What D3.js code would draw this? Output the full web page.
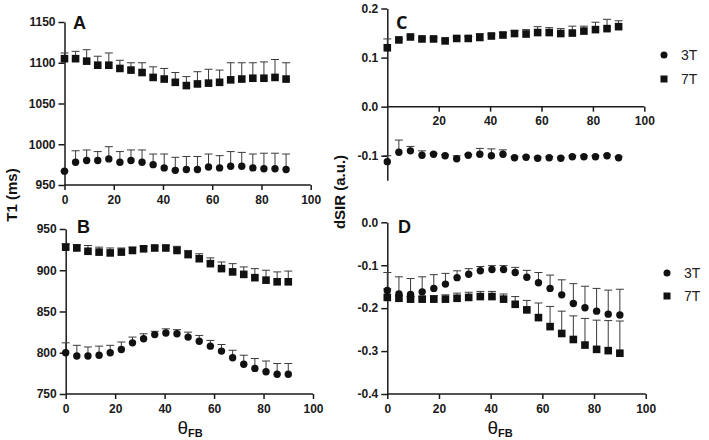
<!DOCTYPE html>
<html>
<head>
<meta charset="utf-8">
<script src="https://cdn.jsdelivr.net/npm/d3@7"></script>
<style>
  body { margin: 0; background: #fff; }
  svg { display: block; }
  .axis path, .axis line { stroke: #1a1a1a; stroke-width: 1.5; }
  .axis text { font-family: "Liberation Sans", Arial, sans-serif; font-weight: bold; font-size: 12px; fill: #1a1a1a; }
</style>
</head>
<body>
<svg id="chart" width="709" height="440"></svg>
<script>
// flip angle (deg)
var theta = [0, 4.5, 9, 13.5, 18, 22.5, 27, 31.5, 36, 40.5, 45, 49.5, 54, 58.5, 63, 67.5, 72, 76.5, 81, 85.5, 90];

// A: T1 (ms), first ROI
var a3T = [967, 978, 980, 980, 982, 978, 980, 978, 975, 971, 968, 969, 969, 972, 971, 973, 973, 971, 970, 970, 969];
var a3Tsd = [0, 14, 13, 11, 15, 13, 13, 15, 13, 17, 16, 16, 16, 16, 15, 18, 17, 17, 19, 19, 19];
var a7T = [1105, 1105, 1102, 1097, 1097, 1093, 1091, 1088, 1082, 1080, 1076, 1072, 1074, 1075, 1076, 1079, 1080, 1081, 1081, 1082, 1080];
var a7Tsd = [7, 9, 14, 11, 15, 10, 9, 12, 13, 13, 12, 11, 15, 17, 15, 21, 20, 19, 20, 22, 20];

// B: T1 (ms), second ROI
var b3T = [800, 796, 796, 797, 800, 804, 812, 817, 822, 824, 823, 819, 814, 808, 802, 794, 786, 781, 777, 774, 774];
var b3Tsd = [12, 13, 11, 11, 9, 9, 7, 6, 4, 5, 5, 6, 7, 7, 8, 9, 11, 12, 13, 13, 13];
var b7T = [928, 927, 923, 922, 921, 922, 924, 926, 927, 927, 924, 919, 914, 908, 902, 898, 895, 891, 888, 886, 886];
var b7Tsd = [4, 4, 7, 6, 6, 5, 4, 3, 2, 3, 5, 5, 6, 7, 8, 10, 9, 11, 12, 12, 13];

// C: dSIR (a.u.), first ROI
var c3T = [-0.112, -0.093, -0.090, -0.099, -0.097, -0.100, -0.106, -0.099, -0.097, -0.100, -0.097, -0.104, -0.103, -0.105, -0.104, -0.105, -0.102, -0.102, -0.102, -0.100, -0.104];
var c3Tsd = [0.012, 0.025, 0.009, 0.009, 0.002, 0.002, 0.006, 0.002, 0.012, 0.014, 0.009, 0.002, 0.002, 0.002, 0.002, 0.002, 0.002, 0.002, 0.002, 0.002, 0.002];
var c7T = [0.120, 0.136, 0.142, 0.138, 0.138, 0.134, 0.139, 0.139, 0.141, 0.144, 0.146, 0.149, 0.148, 0.151, 0.151, 0.149, 0.150, 0.154, 0.157, 0.159, 0.163];
var c7Tsd = [0.018, 0.002, 0.002, 0.002, 0.002, 0.002, 0.003, 0.004, 0.008, 0.004, 0.005, 0.006, 0.009, 0.012, 0.010, 0.010, 0.014, 0.010, 0.015, 0.019, 0.012];

// D: dSIR (a.u.), second ROI
var d3T = [-0.159, -0.167, -0.168, -0.162, -0.154, -0.144, -0.129, -0.121, -0.113, -0.110, -0.110, -0.117, -0.128, -0.141, -0.154, -0.169, -0.189, -0.199, -0.207, -0.214, -0.216];
var d3Tsd = [0.042, 0.040, 0.037, 0.035, 0.032, 0.025, 0.016, 0.013, 0.010, 0.009, 0.009, 0.012, 0.016, 0.024, 0.031, 0.035, 0.046, 0.050, 0.053, 0.056, 0.060];
var d7T = [-0.175, -0.177, -0.179, -0.179, -0.179, -0.179, -0.177, -0.175, -0.173, -0.173, -0.179, -0.191, -0.204, -0.222, -0.243, -0.259, -0.273, -0.286, -0.296, -0.299, -0.305];
var d7Tsd = [0.020, 0.006, 0.006, 0.006, 0.008, 0.010, 0.012, 0.012, 0.012, 0.012, 0.012, 0.018, 0.022, 0.034, 0.047, 0.052, 0.055, 0.062, 0.068, 0.070, 0.075];

var xTicks = [0, 20, 40, 60, 80, 100];
var t1TicksA = [950, 1000, 1050, 1100, 1150];
var t1TicksB = [750, 800, 850, 900, 950];
var sirTicksC = [-0.1, 0.0, 0.1, 0.2];
var sirTicksD = [-0.4, -0.3, -0.2, -0.1, 0.0];
var legendLabels = ["3T", "7T"];

var svg = d3.select("#chart");
var font = '"Liberation Sans", Arial, sans-serif';

function drawPanel(p) {
  var x = d3.scaleLinear().domain([0, 100]).range(p.xr);
  var y = d3.scaleLinear().domain(p.yd).range(p.yr);
  var g = svg.append("g");

  var fmt = p.fmt || function(d) { return d; };

  g.append("g").attr("class", "axis")
    .attr("transform", "translate(0," + y(p.xAt) + ")")
    .call(d3.axisBottom(x).tickValues(p.xTicks).tickSize(5).tickSizeOuter(0).tickPadding(5))
    .call(function(s) { s.select(".domain").attr("d", "M" + x(0) + ",0H" + x(100)); });

  g.append("g").attr("class", "axis")
    .attr("transform", "translate(" + x(0) + ",0)")
    .call(d3.axisLeft(y).tickValues(p.yTicks).tickSize(6).tickSizeOuter(0).tickPadding(3).tickFormat(fmt));

  var series = [
    { mean: p.s7, sd: p.s7sd, shape: "square" },
    { mean: p.s3, sd: p.s3sd, shape: "circle" }
  ];

  series.forEach(function(s) {
    var eb = g.append("g").attr("stroke", "#3a3a3a").attr("stroke-width", 1);
    theta.forEach(function(t, i) {
      var top = y(s.mean[i] + s.sd[i]);
      eb.append("line").attr("x1", x(t)).attr("x2", x(t)).attr("y1", y(s.mean[i])).attr("y2", top);
      eb.append("line").attr("x1", x(t) - 4).attr("x2", x(t) + 4).attr("y1", top).attr("y2", top);
    });
  });

  series.forEach(function(s) {
    var pts = g.append("g").attr("fill", "#111");
    if (s.shape === "square") {
      pts.selectAll("rect").data(theta).enter().append("rect")
        .attr("x", function(d) { return x(d) - 3.8; })
        .attr("y", function(d, i) { return y(s.mean[i]) - 3.8; })
        .attr("width", 7.6).attr("height", 7.6);
    } else {
      pts.selectAll("circle").data(theta).enter().append("circle")
        .attr("cx", function(d) { return x(d); })
        .attr("cy", function(d, i) { return y(s.mean[i]); })
        .attr("r", 3.7);
    }
  });

  g.append("text").attr("x", p.letter[1]).attr("y", p.letter[2])
    .attr("font-family", p.letterFont || font).attr("font-weight", "bold")
    .attr("font-size", 18).attr("fill", "#111").text(p.letter[0]);

  if (p.legend) {
    var lg = g.append("g");
    lg.append("circle").attr("cx", p.legend[0]).attr("cy", p.legend[1]).attr("r", 3.5).attr("fill", "#111");
    lg.append("rect").attr("x", p.legend[0] - 3.5).attr("y", p.legend[2] - 3.5).attr("width", 7).attr("height", 7).attr("fill", "#111");
    [p.legend[1], p.legend[2]].forEach(function(yy, i) {
      lg.append("text").attr("x", p.legend[0] + 17).attr("y", yy).attr("dy", "0.36em")
        .attr("font-family", font).attr("font-size", 14).attr("fill", "#222").text(legendLabels[i]);
    });
  }
}

var sirFmt = function(d) { return d.toFixed(1); };

drawPanel({ xr: [64.5, 310.7], yd: [950, 1150], yr: [185, 22], xAt: 950, xTicks: xTicks, yTicks: t1TicksA,
  s3: a3T, s3sd: a3Tsd, s7: a7T, s7sd: a7Tsd, letter: ["A", 73, 29] });
drawPanel({ xr: [65.7, 313], yd: [750, 950], yr: [394, 229], xAt: 750, xTicks: xTicks, yTicks: t1TicksB,
  s3: b3T, s3sd: b3Tsd, s7: b7T, s7sd: b7Tsd, letter: ["B", 77, 233] });
drawPanel({ xr: [387.3, 644.3], yd: [-0.15, 0.2], yr: [180.3, 8.5], xAt: 0, xTicks: xTicks.slice(1), yTicks: sirTicksC,
  fmt: sirFmt, s3: c3T, s3sd: c3Tsd, s7: c7T, s7sd: c7Tsd, letter: ["C", 396, 29], letterFont: '"Open Sans", sans-serif',
  legend: [664, 55, 79] });
drawPanel({ xr: [387.3, 645.7], yd: [-0.4, 0], yr: [394, 222.3], xAt: -0.4, xTicks: xTicks, yTicks: sirTicksD,
  fmt: sirFmt, s3: d3T, s3sd: d3Tsd, s7: d7T, s7sd: d7Tsd, letter: ["D", 398, 233],
  legend: [667, 273, 296] });

// axis titles
svg.append("text").attr("transform", "translate(17,195) rotate(-90)").attr("text-anchor", "middle")
  .attr("font-family", font).attr("font-weight", "bold").attr("font-size", 15).attr("fill", "#111").text("T1 (ms)");
svg.append("text").attr("transform", "translate(345,192) rotate(-90)").attr("text-anchor", "middle")
  .attr("font-family", font).attr("font-weight", "bold").attr("font-size", 15).attr("fill", "#111").text("dSIR (a.u.)");

[[190, 434], [500, 434]].forEach(function(c) {
  var t = svg.append("text").attr("x", c[0]).attr("y", c[1]).attr("text-anchor", "middle")
    .attr("font-family", font).attr("fill", "#111");
  t.append("tspan").attr("font-size", 19).text("θ");
  t.append("tspan").attr("font-size", 11).attr("font-weight", "bold").attr("dy", 3).text("FB");
});
</script>
</body>
</html>
